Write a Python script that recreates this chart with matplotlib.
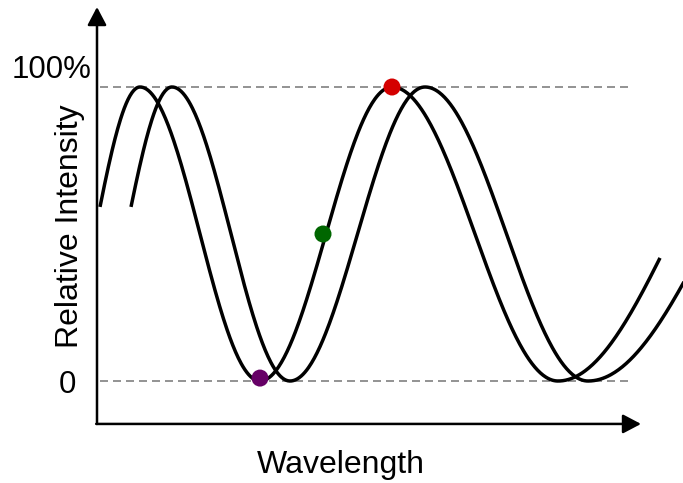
import numpy as np
import matplotlib
matplotlib.use("Agg")
import matplotlib.pyplot as plt

plt.rcParams['font.family'] = ['Liberation Sans', 'DejaVu Sans']

# ---- data ----
# knot positions along the wavelength axis (arbitrary units) and the
# interference phase (in units of pi) at each knot; integer phases are extrema
curve1_x = [3, 43, 163, 295, 461, 563]
curve1_phase = [-0.441, 0, 1, 2, 3, 3.448]
curve2_x = [34, 75, 193, 328, 491, 600]
curve2_phase = [-0.441, 0, 1, 2, 3, 3.448]

# highlighted points on curve 1 (wavelength, relative intensity)
point_x = [163, 226, 295]
point_y = [0.01, 0.50, 1.0]
point_colors = ['#660066', '#006600', '#d40000']

level_values = [0.0, 1.0]
level_labels = ['0', '100%']

x_label = 'Wavelength'
y_label = 'Relative Intensity'

# ---- figure ----
fig = plt.figure(figsize=(6.83, 4.83), dpi=100)
ax = fig.add_axes([0, 0, 1, 1])
ax.set_xlim(-97, 586)
ax.set_ylim(-0.3469, 1.2959)
ax.axis('off')


def intensity(xk, pk, n=600):
    xs = np.linspace(xk[0], xk[-1], n)
    ph = np.interp(xs, xk, pk)
    return xs, 0.5 + 0.5 * np.cos(np.pi * ph)


# dashed reference levels
for v in level_values:
    ax.plot([3, 531], [v, v], color='#808080', lw=1.2, dashes=(4.8, 3.0),
            zorder=1)

for xk, pk in [(curve1_x, curve1_phase), (curve2_x, curve2_phase)]:
    xs, ys = intensity(xk, pk)
    ax.plot(xs, ys, color='black', lw=2.5, solid_capstyle='butt', zorder=3,
            clip_on=True)

ax.scatter(point_x, point_y, s=150, c=point_colors, zorder=5, linewidths=0)

# axes with arrows
corner_y = -0.146
ax.annotate('', xy=(0, 1.272), xytext=(0, corner_y),
            arrowprops=dict(arrowstyle='-|>,head_length=11,head_width=5.8',
                            mutation_scale=1, lw=1.8, color='black',
                            shrinkA=0, shrinkB=0))
ax.annotate('', xy=(544, corner_y), xytext=(-0.8, corner_y),
            arrowprops=dict(arrowstyle='-|>,head_length=11,head_width=5.8',
                            mutation_scale=1, lw=1.8, color='black',
                            shrinkA=0, shrinkB=0))

# level labels
ax.text(-6, 1.058, level_labels[1], ha='right', va='center', fontsize=22.5)
ax.text(-21, -0.013, level_labels[0], ha='right', va='center', fontsize=22.5)

ax.text(244, -0.287, x_label, ha='center', va='center', fontsize=23)
ax.text(-27, 0.527, y_label, ha='center', va='center', rotation=90,
        fontsize=23)

fig.savefig('out.png', dpi=100)
